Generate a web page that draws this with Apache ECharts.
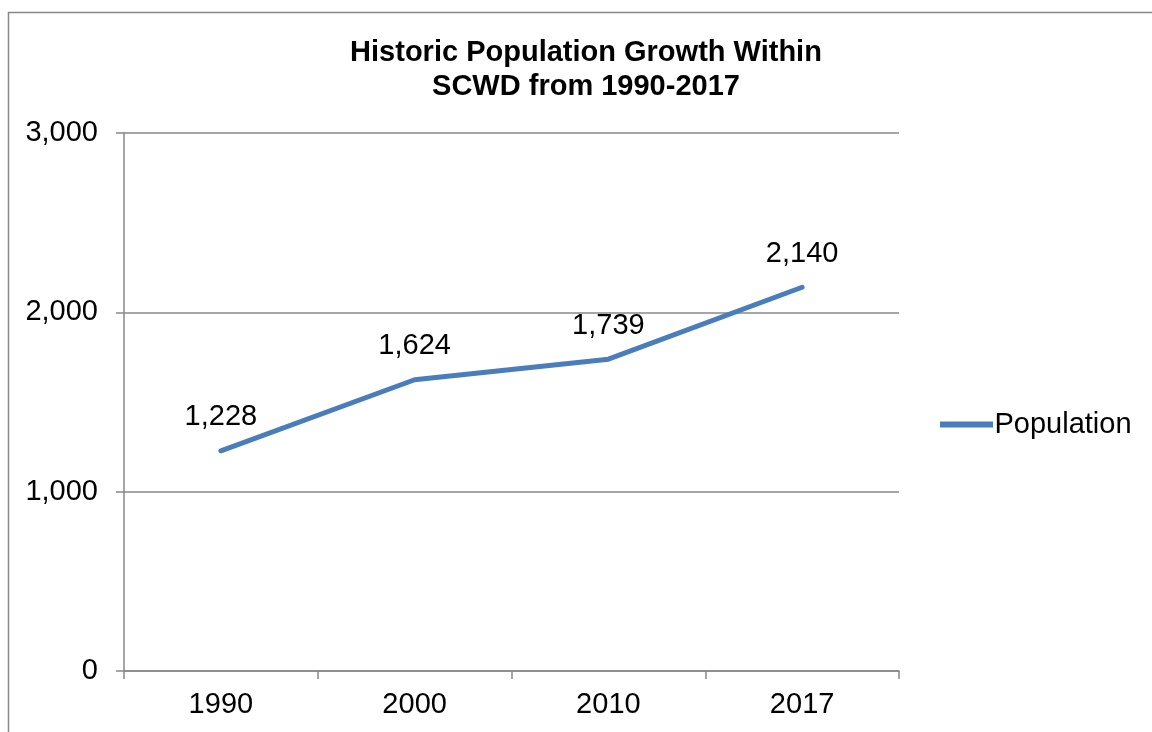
<!DOCTYPE html>
<html>
<head>
<meta charset="utf-8">
<script src="https://cdn.jsdelivr.net/npm/echarts@6/dist/echarts.min.js"></script>
<style>html,body{margin:0;padding:0;background:#fff}#c{width:1152px;height:732px}</style>
</head>
<body>
<div id="c"></div>
<script>
var categories = ['1990', '2000', '2010', '2017'];
var population = [1228, 1624, 1739, 2140];
var yTicks = [0, 1000, 2000, 3000];

var chart = echarts.init(document.getElementById('c'));
var font = 'Liberation Sans, Arial, sans-serif';
var fs = 29;
chart.setOption({
  animation: false,
  backgroundColor: '#fff',
  graphic: [{
    type: 'rect', shape: {x: 8.5, y: 12.5, width: 1200, height: 800},
    style: {fill: 'none', stroke: '#888', lineWidth: 1.5}, silent: true
  }],
  title: {
    text: 'Historic Population Growth Within\nSCWD from 1990-2017',
    left: 581, top: 31, textAlign: 'center',
    textStyle: {fontFamily: font, fontSize: fs, fontWeight: 'bold', color: '#000', lineHeight: 34}
  },
  legend: {
    data: [{name: 'Population', icon: 'path://M0,0 L53,0 L53,6 L0,6 Z'}],
    left: 935, top: 405, itemWidth: 58, itemHeight: 6, itemGap: 4,
    itemStyle: {color: '#4a7ebb', borderWidth: 0},
    textStyle: {fontFamily: font, fontSize: fs, color: '#000', padding: [0,0,0,-6]}
  },
  grid: {left: 124, right: 253, top: 133, bottom: 61, containLabel: false},
  xAxis: {
    type: 'category', data: categories, boundaryGap: true,
    axisLine: {lineStyle: {color: '#888', width: 1.5}},
    axisTick: {show: true, length: 8, lineStyle: {color: '#888', width: 1.5}},
    axisLabel: {fontFamily: font, fontSize: fs, color: '#000', margin: 19}
  },
  yAxis: {
    type: 'value', min: 0, max: 3000, interval: 1000,
    axisLine: {show: true, lineStyle: {color: '#888', width: 1.5}},
    axisTick: {show: true, length: 8, lineStyle: {color: '#888', width: 1.5}},
    splitLine: {lineStyle: {color: '#888', width: 1.5}},
    axisLabel: {fontFamily: font, fontSize: fs, color: '#000', margin: 26,
      formatter: function (v) { return v.toLocaleString('en-US'); }}
  },
  series: [{
    name: 'Population', type: 'line', data: population,
    symbol: 'circle', symbolSize: 0.01, showSymbol: true, smooth: false,
    lineStyle: {color: '#4a7ebb', width: 5, cap: 'round'},
    itemStyle: {color: '#4a7ebb'},
    label: {show: true, position: 'top', distance: 19, fontFamily: font, fontSize: fs, color: '#000',
      formatter: function (p) { return p.value.toLocaleString('en-US'); }}
  }]
});
</script>
</body>
</html>
